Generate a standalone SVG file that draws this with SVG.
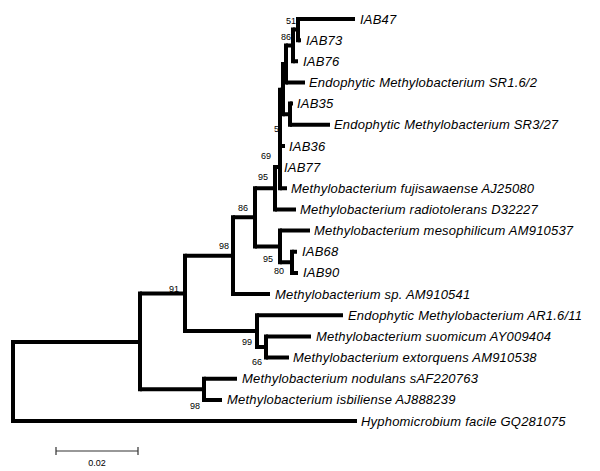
<svg xmlns="http://www.w3.org/2000/svg" width="600" height="471" viewBox="0 0 600 471">
<style>
.v{stroke:#000;stroke-width:4;stroke-linecap:square;fill:none}
.h{stroke:#000;stroke-width:4;stroke-linecap:butt;fill:none}
.lf{font-family:"Liberation Sans",Arial,sans-serif;font-size:13px;font-style:italic;letter-spacing:0.2px;fill:#000}
.bs{font-family:"Liberation Sans",Arial,sans-serif;font-size:9px;fill:#000;text-anchor:end}
.sc{stroke:#333;stroke-width:1.2;fill:none}
</style>
<rect width="600" height="471" fill="#fff"/>
<g id="bootstrap">
<text class="bs" x="296" y="24">51</text>
<text class="bs" x="291" y="40">86</text>
<text class="bs" x="279" y="132">5</text>
<text class="bs" x="271" y="159">69</text>
<text class="bs" x="268" y="180">95</text>
<text class="bs" x="248" y="211">86</text>
<text class="bs" x="229" y="249">98</text>
<text class="bs" x="273" y="262">95</text>
<text class="bs" x="284" y="274">80</text>
<text class="bs" x="179" y="292">91</text>
<text class="bs" x="252" y="345">99</text>
<text class="bs" x="262" y="365">66</text>
<text class="bs" x="200" y="409">98</text>
</g>
<g id="connectors">
<path class="v" d="M13,341.9V421M140,293.4V389.3M204,378.7V399.9M185,255.7V331M257,315.2V347M266,336.4V357.6M233,217.3V294.1M255,188.3V246.5M280,230.6V262.3M292,251.8V272.9M275,167.1V209.4M280,89.8V188.3M283,64V114.2M290,103.6V124.8M286,45.5V82.5M293,29.6V61.3M298,19V40.2"/>
<path class="h" d="M13,341.9H140M13,421H357M140,293.4H185M140,389.3H204M204,378.7H237M204,399.9H222M185,255.7H233M185,331H257M257,315.2H343M257,347H266M266,336.4H311M266,357.6H289M233,217.3H255M233,294.1H270M255,188.3H275M255,246.5H280M280,230.6H310M280,262.3H292M292,251.8H297M292,272.9H298M275,167.1H280M275,209.4H296M280,89.8H283M280,146H285M280,188.3H287M283,64H286M283,114.2H290M290,103.6H293M290,124.8H330M286,45.5H293M286,82.5H305M293,29.6H298M293,61.3H298M298,19H355M298,40.2H301"/>
</g>
<g id="leaf-IAB47"><text class="lf" x="360" y="23.5">IAB47</text></g>
<g id="leaf-IAB73"><text class="lf" x="306" y="44.7">IAB73</text></g>
<g id="leaf-IAB76"><text class="lf" x="303" y="65.8">IAB76</text></g>
<g id="leaf-SR1.6-2"><text class="lf" x="309" y="87">Endophytic Methylobacterium SR1.6/2</text></g>
<g id="leaf-IAB35"><text class="lf" x="297" y="108.1">IAB35</text></g>
<g id="leaf-SR3-27"><text class="lf" x="334" y="129.3">Endophytic Methylobacterium SR3/27</text></g>
<g id="leaf-IAB36"><text class="lf" x="289" y="150.5">IAB36</text></g>
<g id="leaf-IAB77"><text class="lf" x="284" y="171.6">IAB77</text></g>
<g id="leaf-fujisawaense"><text class="lf" x="291" y="192.8">Methylobacterium fujisawaense AJ25080</text></g>
<g id="leaf-radiotolerans"><text class="lf" x="300" y="213.9">Methylobacterium radiotolerans D32227</text></g>
<g id="leaf-mesophilicum"><text class="lf" x="314" y="235.1">Methylobacterium mesophilicum AM910537</text></g>
<g id="leaf-IAB68"><text class="lf" x="302" y="256.3">IAB68</text></g>
<g id="leaf-IAB90"><text class="lf" x="303" y="277.4">IAB90</text></g>
<g id="leaf-sp"><text class="lf" x="275" y="298.6">Methylobacterium sp. AM910541</text></g>
<g id="leaf-AR1.6-11"><text class="lf" x="348" y="319.7">Endophytic Methylobacterium AR1.6/11</text></g>
<g id="leaf-suomicum"><text class="lf" x="316" y="340.9">Methylobacterium suomicum AY009404</text></g>
<g id="leaf-extorquens"><text class="lf" x="293" y="362.1">Methylobacterium extorquens AM910538</text></g>
<g id="leaf-nodulans"><text class="lf" x="242" y="383.2">Methylobacterium nodulans sAF220763</text></g>
<g id="leaf-isbiliense"><text class="lf" x="227" y="404.4">Methylobacterium isbiliense AJ888239</text></g>
<g id="leaf-Hyphomicrobium"><text class="lf" x="361" y="425.5">Hyphomicrobium facile GQ281075</text></g>
<g id="scale">
<path class="sc" d="M56,451H138M56,447V455M138,447V455"/>
<text x="97" y="466" font-family="'Liberation Sans',Arial,sans-serif" font-size="9" text-anchor="middle" fill="#000">0.02</text>
</g>
</svg>
